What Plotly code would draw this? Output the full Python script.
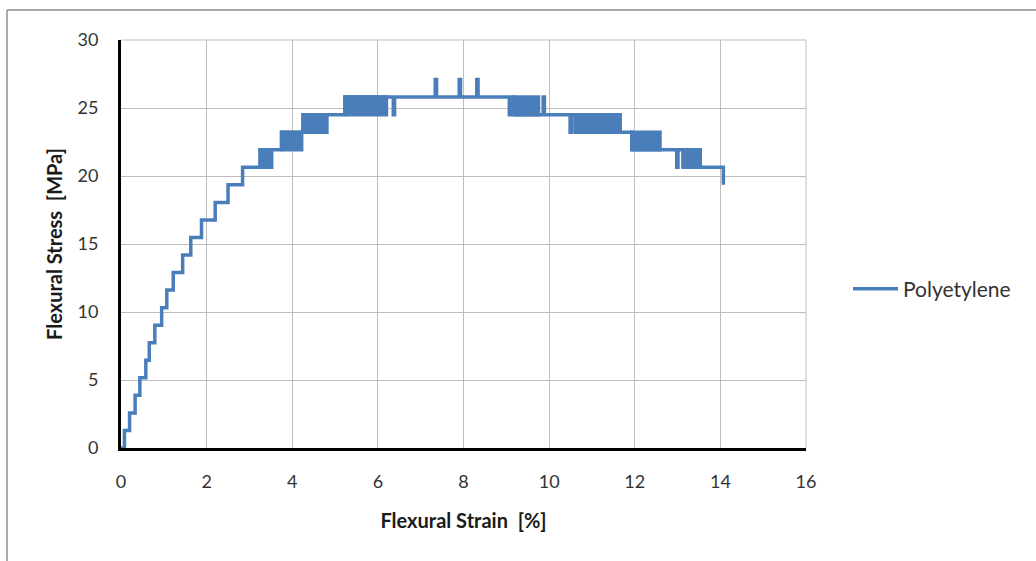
import plotly.graph_objects as go

# Flexural test record: strain [%] vs stress [MPa], stepped by the load-cell resolution
strain = [0.00, 0.08, 0.20, 0.33, 0.44, 0.58, 0.66, 0.79, 0.95, 1.07, 1.22, 1.44, 1.63,
          1.88, 2.20, 2.50, 2.84, 3.25, 3.75, 4.25, 5.23, 6.36, 6.39, 7.34, 7.37, 7.90,
          7.93, 8.31, 8.34, 9.07, 9.10, 9.16, 9.86, 9.89, 10.49, 10.52, 10.61, 11.93,
          12.98, 13.01, 13.13, 14.07]
stress = [0.00, 1.29, 2.58, 3.87, 5.16, 6.45, 7.74, 9.03, 10.32, 11.61, 12.90, 14.19, 15.48,
          16.77, 18.06, 19.35, 20.64, 21.93, 23.22, 24.51, 25.80, 24.51, 25.80, 27.09, 25.80, 27.09,
          25.80, 27.09, 25.80, 24.51, 25.80, 24.51, 25.80, 24.51, 23.22, 24.51, 23.22, 21.93,
          20.64, 21.93, 20.64, 19.35]

# Intervals where the reading chatters between two adjacent levels
band_start = [3.25, 3.75, 4.25, 5.23, 9.16, 10.61, 11.93, 13.13]
band_end = [3.52, 4.22, 4.81, 6.20, 9.75, 11.66, 12.59, 13.53]
band_low = [20.64, 21.93, 23.22, 24.51, 24.51, 23.22, 21.93, 20.64]
band_high = [21.93, 23.22, 24.51, 25.80, 25.80, 24.51, 23.22, 21.93]

series_name = "Polyetylene"
color = "#4a7ebb"
font_family = "Lato, 'Open Sans', sans-serif"

fig = go.Figure()

for x0, x1, lo, hi in zip(band_start, band_end, band_low, band_high):
    fig.add_trace(go.Scatter(
        x=[x0, x1, x1, x0, x0], y=[lo, lo, hi, hi, lo],
        mode="lines", fill="toself", fillcolor=color,
        line=dict(color=color, width=3.5),
        showlegend=False, hoverinfo="skip"))

fig.add_trace(go.Scatter(
    x=strain, y=stress, mode="lines", name=series_name,
    line=dict(color=color, width=3.5, shape="hv")))

W, H = 1036, 561
L, R, T, B = 121, 806, 40, 448


def px(xp):
    return (xp - L) / (R - L)


def py(yp):
    return (B - yp) / (B - T)


fig.update_layout(
    width=W, height=H,
    margin=dict(l=L, r=W - R, t=T, b=H - B),
    paper_bgcolor="white", plot_bgcolor="white",
    font=dict(family=font_family, size=18, color="#333333"),
    showlegend=True,
    legend=dict(x=px(848), y=py(289), xanchor="left", yanchor="middle",
                font=dict(size=21, color="#333333"), bgcolor="rgba(0,0,0,0)",
                itemwidth=45),
    xaxis=dict(range=[0, 16], dtick=2, tick0=0, showgrid=True, gridcolor="#bdbdbd",
               gridwidth=1, showline=True, linecolor="black", linewidth=3,
               zeroline=False, ticks="", ticklabelstandoff=15,
               tickfont=dict(size=18, color="#333333"),
               title=dict(text="<b>Flexural Strain  [%]</b>", standoff=24,
                          font=dict(size=20, color="#1a1a1a"))),
    yaxis=dict(range=[0, 30], dtick=5, tick0=0, showgrid=True, gridcolor="#bdbdbd",
               gridwidth=1, showline=True, linecolor="black", linewidth=3,
               zeroline=False, ticks="", ticklabelstandoff=16,
               tickfont=dict(size=18, color="#333333"),
               title=dict(text="<b>Flexural Stress  [MPa]</b>", standoff=10,
                          font=dict(size=20, color="#1a1a1a"))),
    shapes=[
        # top and right edges of the plotting area
        dict(type="line", xref="paper", yref="paper", x0=0, x1=1, y0=1, y1=1,
             line=dict(color="#bdbdbd", width=1)),
        dict(type="line", xref="paper", yref="paper", x0=1, x1=1, y0=0, y1=1,
             line=dict(color="#bdbdbd", width=1)),
        # chart frame
        dict(type="line", xref="paper", yref="paper", x0=px(7), x1=px(1045),
             y0=py(10), y1=py(10), line=dict(color="#8c8c8c", width=1.5)),
        dict(type="line", xref="paper", yref="paper", x0=px(7), x1=px(7),
             y0=py(10), y1=py(570), line=dict(color="#8c8c8c", width=1.5)),
    ],
)

fig.write_html("out.html")
